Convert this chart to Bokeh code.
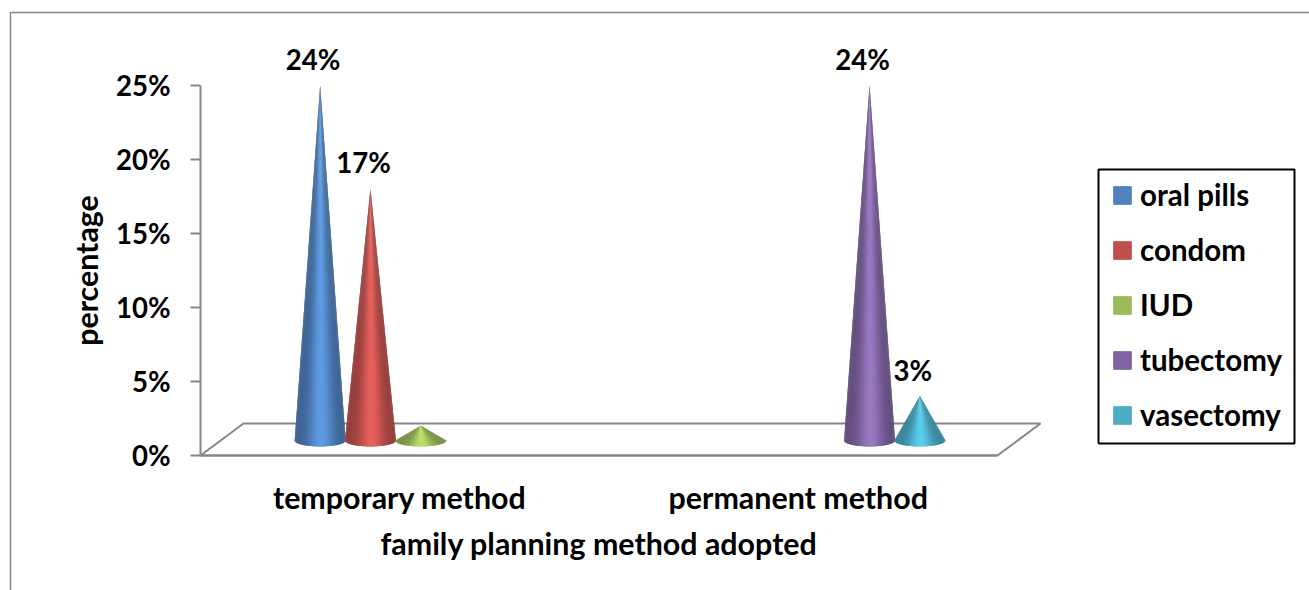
import numpy as np
from bokeh.core.properties import value
from bokeh.embed import file_html
from bokeh.models import FixedTicker, Legend, LegendItem, Range1d
from bokeh.plotting import figure
from bokeh.resources import INLINE

# Chart data
categories = ["temporary method", "permanent method"]
series_names = ["oral pills", "condom", "IUD", "tubectomy", "vasectomy"]
oral_pills = [24, 0]
condom = [17, 0]
iud = [1, 0]
tubectomy = [0, 24]
vasectomy = [0, 3]
series_values = [oral_pills, condom, iud, tubectomy, vasectomy]
series_labelled = [True, True, False, True, True]
series_colors = ["#4f81bd", "#c0504d", "#9bbb59", "#8064a2", "#4bacc6"]
y_ticks = [0, 5, 10, 15, 20, 25]

WIDTH, HEIGHT = 1309, 590
AXIS_LEFT, PX_PER_CAT = 200, 398.5
ZERO_Y, PX_PER_PCT = 455, 14.8
FONT = "Lato"
TEXT_SIZE = "30.4px"
LEGEND_SIZE = "29.5px"
NUMBER_SIZE = "27.6px"
GRAY = "#868686"


def dx(px):
    return px / PX_PER_CAT


def dy(px):
    return px / PX_PER_PCT


def page_x(px):
    return (px - AXIS_LEFT) / PX_PER_CAT


def page_y(px):
    return (ZERO_Y - px) / PX_PER_PCT


p = figure(
    width=WIDTH, height=HEIGHT, output_backend="svg", toolbar_location=None,
    x_range=Range1d(page_x(0), page_x(WIDTH)),
    y_range=Range1d(page_y(HEIGHT), page_y(0)),
    min_border=0, outline_line_color=None, background_fill_color="white",
)
p.grid.visible = False

# Value axis
yax = p.yaxis[0]
yax.fixed_location = 0
yax.bounds = (0, 25)
yax.ticker = FixedTicker(ticks=y_ticks)
yax.major_label_overrides = {t: f"{t}%" for t in y_ticks}
yax.axis_line_color = GRAY
yax.axis_line_width = 2
yax.major_tick_line_color = GRAY
yax.major_tick_line_width = 2
yax.major_tick_in = 0
yax.major_tick_out = 10
yax.minor_tick_line_color = None
yax.major_label_standoff = 20
yax.major_label_text_font = FONT
yax.major_label_text_font_style = "bold"
yax.major_label_text_font_size = NUMBER_SIZE
yax.major_label_text_color = "black"
yax.axis_label = "percentage"
yax.axis_label_standoff = 9
yax.axis_label_text_font = FONT
yax.axis_label_text_font_style = "bold"
yax.axis_label_text_font_size = TEXT_SIZE
yax.axis_label_text_color = "black"

# Category axis
xax = p.xaxis[0]
xax.fixed_location = 0
xax.bounds = (0, 2)
xax.ticker = FixedTicker(ticks=[0.5, 1.5])
xax.major_label_overrides = {0.5: categories[0], 1.5: categories[1]}
xax.axis_line_color = GRAY
xax.axis_line_width = 2
xax.major_tick_line_color = None
xax.minor_tick_line_color = None
xax.major_label_standoff = 17
xax.major_label_text_font = FONT
xax.major_label_text_font_style = "bold"
xax.major_label_text_font_size = TEXT_SIZE
xax.major_label_text_color = "black"
xax.axis_label = "family planning method adopted"
xax.axis_label_standoff = 7
xax.axis_label_text_font = FONT
xax.axis_label_text_font_style = "bold"
xax.axis_label_text_font_size = TEXT_SIZE
xax.axis_label_text_color = "black"

# Outer chart border (left and top edges)
p.line([page_x(10), page_x(10), page_x(WIDTH)],
       [page_y(HEIGHT), page_y(12), page_y(12)], line_color=GRAY, line_width=1.5)

# Perspective floor
DEPTH_X, DEPTH_Y = dx(43), dy(32)
p.line([0, DEPTH_X, 2 + DEPTH_X, 2, 0],
       [0, DEPTH_Y, DEPTH_Y, 0, 0], line_color=GRAY, line_width=2)


def shade(hex_color, t):
    """Colour of a cone facet at position t (0 left edge, 1 right edge)."""
    rgb = np.array([int(hex_color[i:i + 2], 16) for i in (1, 3, 5)], dtype=float)
    k = 0.76 + 0.44 * np.exp(-((t - 0.52) / 0.26) ** 2)
    return "#%02x%02x%02x" % tuple(np.clip(rgb * k, 0, 255).astype(int))


SLOT = dx(50.3)
HALF_W = dx(25.5)
RY = dy(6)
BASE_LIFT = dy(15)
SHIFT = dx(21)
STRIPS = 60

# Cones: a fan of overlapping facets, each painted over the previous one's far edge
label_x, label_y, label_text = [], [], []
for k, (vals, color, labelled) in enumerate(zip(series_values, series_colors, series_labelled)):
    for c, v in enumerate(vals):
        if not v:
            continue
        cx = c + 0.5 + (k - 2) * SLOT + SHIFT
        angles = np.linspace(np.pi, 2 * np.pi, STRIPS + 1)
        bx = cx + HALF_W * np.cos(angles)
        by = BASE_LIFT + RY * np.sin(angles)
        tip_y = BASE_LIFT + v
        xs, ys, cols = [], [], []
        for i in range(STRIPS):
            end = min(i + 2, STRIPS)
            xs.append([cx, bx[i], bx[i + 1], bx[end]])
            ys.append([tip_y, by[i], by[i + 1], by[end]])
            cols.append(shade(color, (0.5 * (bx[i] + bx[i + 1]) - cx + HALF_W) / (2 * HALF_W)))
        p.patches(xs, ys, fill_color=cols, line_color=None)
        if labelled:
            label_x.append(cx - dx(7))
            label_y.append(tip_y + dy(26))
            label_text.append(f"{v}%")

p.text(label_x, label_y, text=label_text, text_align="center", text_baseline="middle",
       text_font=value(FONT), text_font_style="bold", text_font_size=NUMBER_SIZE,
       text_color="black")

# Legend frame, drawn separately so its margins can differ per side
bx0, bx1, by0, by1 = page_x(1098), page_x(1294), page_y(443), page_y(169)
p.line([bx0, bx1, bx1, bx0, bx0], [by0, by0, by1, by1, by0], line_color="black", line_width=2)

# Legend; its swatch renderers sit below the visible y range
items = []
for name, color in zip(series_names, series_colors):
    off = page_y(HEIGHT) - 5
    r = p.quad(left=[0], right=[0.01], top=[off], bottom=[off - 1], fill_color=color, line_color=color)
    items.append(LegendItem(label=name, renderers=[r]))
legend = Legend(
    items=items, location=(1111, HEIGHT - 432), orientation="vertical",
    border_line_color=None, background_fill_color=None,
    glyph_width=22, glyph_height=22, label_height=18,
    spacing=20, padding=0, margin=0, label_standoff=7,
    label_text_font=FONT, label_text_font_style="bold",
    label_text_font_size=LEGEND_SIZE, label_text_color="black",
)
p.add_layout(legend)

open("out.html", "w").write(file_html(p, INLINE))
